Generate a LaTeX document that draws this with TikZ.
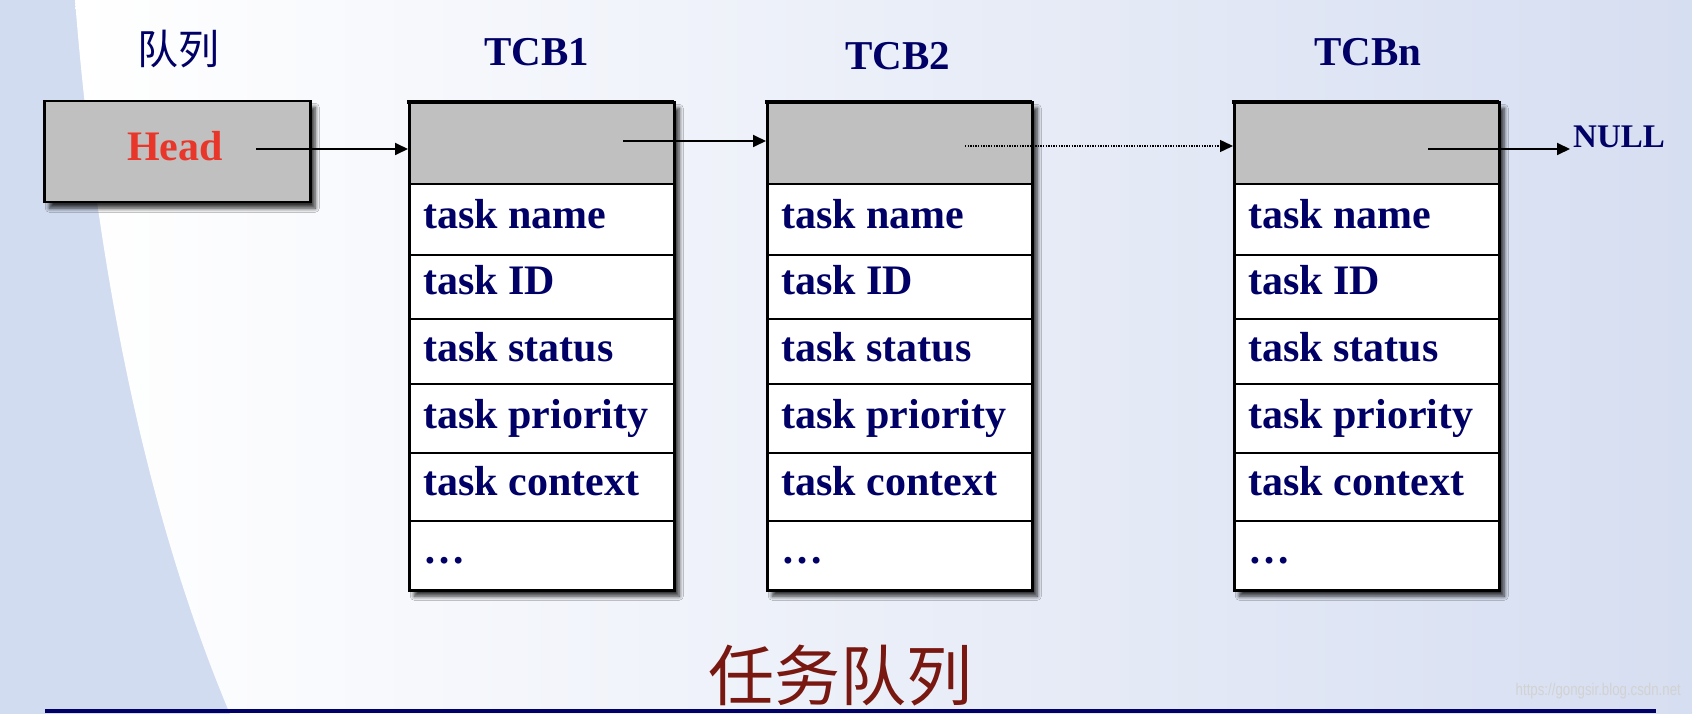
\documentclass[tikz,border=0pt]{standalone}
\usepackage{fontspec}
\setmainfont{Liberation Serif}
\newfontfamily\cjk{Noto Sans CJK SC}
\newfontfamily\wmfont{Liberation Sans}
\usetikzlibrary{arrows.meta,shadows.blur,calc}
\definecolor{navy}{RGB}{0,0,102}
\definecolor{headred}{RGB}{232,55,42}
\definecolor{titlered}{RGB}{120,24,16}
\definecolor{cellgray}{RGB}{192,192,192}
\definecolor{bgblue}{RGB}{210,220,240}
\definecolor{bgright}{RGB}{214,222,241}
\begin{document}
\begin{tikzpicture}[x=1pt,y=-1pt,
  field/.style={font=\fontsize{42}{48}\selectfont\bfseries, text=navy, anchor=base west, inner sep=0pt},
  title/.style={font=\fontsize{41}{48}\selectfont\bfseries, text=navy, inner sep=0pt},
  tcbbox/.style={draw=black, line width=2.5pt, fill=white, anchor=north west,
    minimum width=265pt, minimum height=488pt, inner sep=0pt,
    blur shadow={shadow xshift=5pt, shadow yshift=-6pt, shadow blur steps=6, shadow blur radius=4pt, shadow opacity=80}},
  headcell/.style={draw=black, line width=2.5pt, fill=cellgray, anchor=north west,
    minimum width=265pt, minimum height=82pt, inner sep=0pt},
  headbox/.style={draw=black, line width=2.5pt, fill=cellgray, anchor=north west,
    minimum width=266pt, minimum height=101pt, inner sep=0pt,
    blur shadow={shadow xshift=5pt, shadow yshift=-6pt, shadow blur steps=6, shadow blur radius=4pt, shadow opacity=80}},
  rowline/.style={line width=2pt, black},
  link/.style={line width=1.8pt, black, -{Triangle[length=13pt,width=12pt]}},
  dotlink/.style={line width=1.4pt, black, dash pattern=on 1.4pt off 1.2pt, -{Triangle[length=13pt,width=12pt]}}
]
% background
\fill[bgblue] (0,0) rectangle (1692,714);
\shade[left color=white, right color=bgright] (75,0) .. controls (95,250) and (140,500) .. (230,714) -- (1692,714) -- (1692,0) -- cycle;
\useasboundingbox (0,0) rectangle (1692,714);

% titles
\node[font=\cjk\fontsize{41}{48}\selectfont, text=navy, inner sep=0pt] (qtitle) at (178,49) {队列};
\node[title] (t1) at (537,52) {TCB1};
\node[title] (t2) at (898,56) {TCB2};
\node[title] (tn) at (1368,52) {TCBn};

% head box
\node[headbox] (head) at (43,100) {};
\node[font=\fontsize{42}{48}\selectfont\bfseries, text=headred, inner sep=0pt] (headt) at (175,146) {Head};

% TCB boxes
\foreach \nm/\xl in {tcb1/408, tcb2/766, tcbn/1233} {
  \node[tcbbox] (\nm) at (\xl,101) {};
  \node[headcell] (\nm-h) at (\xl,101) {};
  \draw[line width=4pt] (\xl-1.25,102) -- ++(267.5,0);
  \foreach \yy in {255,319,384,453,521} {
    \draw[rowline] (\xl,\yy) -- ++(265,0);
  }
  \node[field] (\nm-f1) at (\xl+15,229) {task name};
  \node[field] (\nm-f2) at (\xl+15,294) {task ID};
  \node[field] (\nm-f3) at (\xl+15,361) {task status};
  \node[field] (\nm-f4) at (\xl+15,428) {task priority};
  \node[field] (\nm-f5) at (\xl+15,495) {task context};
  \node[field] (\nm-f6) at (\xl+15,563) {\dots};
}

% NULL
\node[font=\fontsize{33}{40}\selectfont\bfseries, text=navy, inner sep=0pt, anchor=west] (null) at (1573,137) {NULL};

% links
\coordinate (a0) at (256,149);
\draw[link] (a0) -- (a0 -| tcb1-h.west);
\coordinate (a1) at (623,141);
\draw[link] (a1) -- (a1 -| tcb2-h.west);
\coordinate (a2) at (965,146);
\draw[dotlink] (a2) -- (a2 -| tcbn-h.west);
\coordinate (a3) at (1428,149);
\draw[link] (a3) -- ($(a3 -| null.west)+(-3,0)$);

% bottom title
\node[font=\cjk\fontsize{66}{70}\selectfont, text=titlered, inner sep=0pt] (btitle) at (840,676) {任务队列};
\draw[line width=4pt, navy] (45,711) -- (1656,711);

% watermark
\node[font=\wmfont\fontsize{17}{17}\selectfont, text=white!65!gray, anchor=east, inner sep=0pt, xscale=0.78] (wm) at (1681,691) {https://gongsir.blog.csdn.net};
\end{tikzpicture}
\end{document}
